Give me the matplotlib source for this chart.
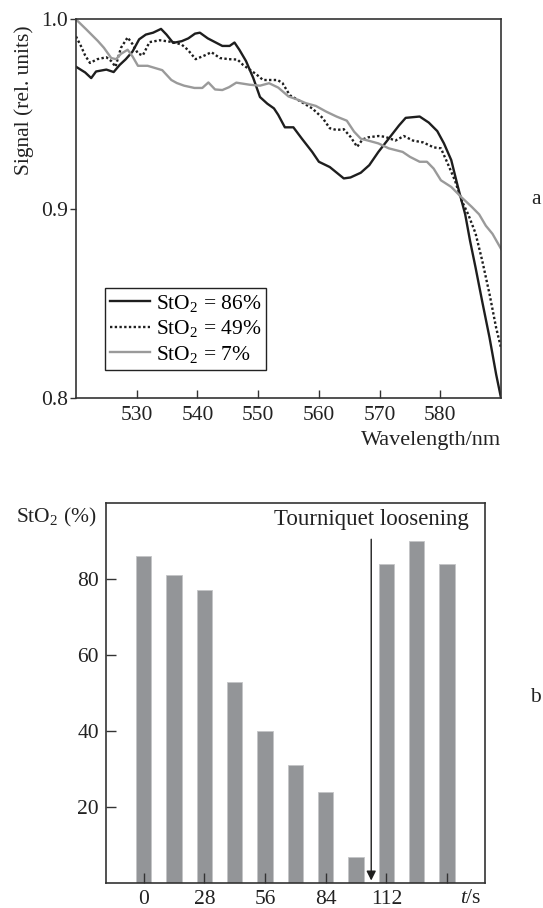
import matplotlib
matplotlib.use("Agg")
import matplotlib.pyplot as plt

plt.rcParams['font.family'] = ['Liberation Serif', 'DejaVu Serif']
plt.rcParams['mathtext.fontset'] = 'custom'
plt.rcParams['mathtext.rm'] = 'Liberation Serif'
plt.rcParams['mathtext.it'] = 'Liberation Serif:italic'
plt.rcParams['font.size'] = 15.5

# spectra (panel a)
wl_86 = [520, 521.5, 522.5, 523.3, 525, 526.2, 527.2, 528.2, 529.3, 530.4, 531.5, 532.7, 534.0, 534.9,
         536.0, 537.4, 538.5, 539.6, 540.4, 541.7, 542.9, 544.1, 545.3, 546.1, 546.9, 548.0, 549.2, 550.3,
         551.5, 552.6, 553.3, 554.4, 555.8, 557.2, 558.9, 560.0, 561.8, 564.1, 565.2, 566.9, 568.3, 569.8,
         571.5, 573.2, 574.3, 576.6, 578.1, 579.5, 580.6, 581.8, 582.9, 584.1, 584.9, 585.8, 586.9, 588.1,
         589.2, 590]
sig_86 = [0.975, 0.972, 0.969, 0.9725, 0.9735, 0.9722, 0.976, 0.979, 0.983, 0.9895, 0.992, 0.993, 0.995, 0.992,
          0.9876, 0.9885, 0.990, 0.9925, 0.993, 0.990, 0.988, 0.986, 0.986, 0.9878, 0.984, 0.978, 0.969, 0.959,
          0.9555, 0.953, 0.9496, 0.943, 0.943, 0.937, 0.930, 0.9248, 0.922, 0.916, 0.9165, 0.919, 0.923, 0.930,
          0.937, 0.944, 0.948, 0.9487, 0.9455, 0.941, 0.9345, 0.9257, 0.9115, 0.897, 0.883, 0.869, 0.851, 0.832,
          0.8124, 0.800]

wl_49 = [520, 520.8, 521.5, 522.3, 523.5, 525, 525.8, 526.5, 527.4, 528.5, 529.3, 530.2, 531.0, 532.1,
         533.8, 536.0, 537.4, 538.4, 539.7, 541.2, 542.3, 543.7, 545.2, 546.6, 547.5, 548.6, 549.7, 550.8,
         553.2, 554.0, 555.2, 556.8, 558.9, 560.6, 561.8, 562.9, 564.1, 565.2, 566.3, 567.2, 568.1, 569.8,
         570.9, 572.6, 574.0, 575.5, 577.2, 578.9, 580.1, 581.2, 582.4, 583.5, 584.6, 585.8, 586.9, 588.1,
         589.2, 590]
sig_49 = [0.991, 0.986, 0.981, 0.977, 0.979, 0.980, 0.978, 0.975, 0.985, 0.9905, 0.987, 0.982, 0.981, 0.988,
          0.989, 0.988, 0.9867, 0.984, 0.979, 0.981, 0.9827, 0.9796, 0.979, 0.9788, 0.976, 0.9735, 0.971, 0.968,
          0.968, 0.9664, 0.960, 0.957, 0.953, 0.948, 0.9425, 0.9416, 0.942, 0.938, 0.9327, 0.9366, 0.9377, 0.9384,
          0.938, 0.936, 0.9384, 0.936, 0.935, 0.9324, 0.9319, 0.924, 0.915, 0.9044, 0.897, 0.887, 0.8726, 0.855,
          0.837, 0.8265]

wl_7 = [520, 521.7, 523.6, 524.6, 525.8, 526.6, 527.4, 528.5, 529.3, 530.2, 531.8, 534.2, 535.7, 536.6,
        537.8, 539.5, 540.8, 541.8, 542.9, 544.1, 545.2, 546.4, 548.6, 550.3, 551.8, 553.3, 555.0, 556.6,
        557.8, 559.5, 561.2, 562.9, 564.6, 565.8, 566.9, 568.1, 569.8, 571.5, 573.8, 575.0, 576.6, 577.8,
        578.9, 580.1, 581.8, 583.5, 585.2, 586.4, 587.5, 588.6, 590]
sig_7 = [1.0, 0.9947, 0.9886, 0.985, 0.9796, 0.979, 0.9818, 0.984, 0.9805, 0.9755, 0.9755, 0.9732, 0.968, 0.9664,
         0.965, 0.9638, 0.9638, 0.9667, 0.963, 0.9627, 0.9642, 0.9666, 0.9655, 0.965, 0.9663, 0.964, 0.9593, 0.9575,
         0.9558, 0.9543, 0.9513, 0.9487, 0.9465, 0.9407, 0.937, 0.936, 0.9345, 0.9319, 0.930, 0.9274, 0.9248, 0.9248,
         0.9212, 0.915, 0.9115, 0.906, 0.9009, 0.897, 0.891, 0.8867, 0.8788]

# StO2 over time (panel b)
t_s = [0, 14, 28, 42, 56, 70, 84, 98, 112, 126, 140]
sto2 = [86, 81, 77, 53, 40, 31, 24, 7, 84, 90, 84]
t_release = 105

spine_col = '#333333'
txt_col = '#222222'
fig = plt.figure(figsize=(5.43, 9.08), dpi=100)

# ---- panel a
ax1 = fig.add_axes([0.1400, 0.5617, 0.7827, 0.4169])
ax1.plot(wl_86, sig_86, color='#1e1e1e', lw=1.7, label='StO$_2$ = 86%')
ax1.plot(wl_49, sig_49, color='#1e1e1e', lw=1.7, ls=(0, (1, 1.0)), label='StO$_2$ = 49%')
ax1.plot(wl_7, sig_7, color='#9a9a9a', lw=1.7, label='StO$_2$ = 7%')
ax1.set_xlim(520, 590)
ax1.set_ylim(0.8, 1.0)
ax1.set_xticks([530, 540, 550, 560, 570, 580])
ax1.set_yticks([0.8, 0.9, 1.0])
ax1.set_yticklabels(['0.8', '0.9', '1.0'])
ax1.tick_params(axis='x', direction='in', length=6, width=1, pad=6, colors=spine_col, labelcolor=txt_col)
ax1.tick_params(axis='y', direction='out', length=4, width=1, pad=2, colors=spine_col, labelcolor=txt_col)
for s in ax1.spines.values():
    s.set_linewidth(1.2)
    s.set_color(spine_col)
leg = ax1.legend(loc='lower left', bbox_to_anchor=(0.068, 0.074), borderaxespad=0,
                 fancybox=False, edgecolor=txt_col, framealpha=1, handlelength=1.85,
                 handletextpad=0.25, borderpad=0.25, labelspacing=0.2, fontsize=15.5)
leg.get_frame().set_linewidth(1.0)
fig.text(24 / 543, 0.89, 'Signal (rel. units)', rotation=90, ha='center', va='center', color=txt_col)
fig.text(501 / 543, (908 - 440) / 908, 'Wavelength/nm', ha='right', va='center', color=txt_col,
         fontsize=16)
fig.text(536 / 543, (908 - 200) / 908, 'a', ha='center', va='center', color=txt_col)

# ---- panel b
ax2 = fig.add_axes([0.1947, 0.0272, 0.6985, 0.4188])
ax2.bar(t_s, sto2, width=7, color='#939598', edgecolor='#c4c5c7', linewidth=0.6)
ax2.set_xlim(-17.5, 157.5)
ax2.set_ylim(0, 100)
ax2.set_xticks([0, 28, 56, 84, 112, 140])
ax2.set_xticklabels(['0', '28', '56', '84', '112', ''])
ax2.set_yticks([20, 40, 60, 80])
ax2.tick_params(axis='both', direction='in', length=7, width=1, colors=spine_col, labelcolor=txt_col)
ax2.tick_params(axis='x', pad=5)
ax2.tick_params(axis='y', pad=5)
for s in ax2.spines.values():
    s.set_linewidth(1.2)
    s.set_color(spine_col)
ax2.annotate('', xy=(t_release, 0), xytext=(t_release, 91.2),
             arrowprops=dict(arrowstyle='-|>', color='#1e1e1e', lw=1.0, mutation_scale=14))
ax2.text(t_release, 95.6, 'Tourniquet loosening', ha='center', va='center', color=txt_col, fontsize=16.5)
ax2.text(151, -1.4, r'$\it{t}$/s', ha='center', va='top', color=txt_col)
ax2.text(-0.024, 0.963, 'StO$_2$ (%)', transform=ax2.transAxes, ha='right', va='center', color=txt_col)
fig.text(535.6 / 543, (908 - 698) / 908, 'b', ha='center', va='center', color=txt_col)

fig.savefig('out.png', dpi=100)
